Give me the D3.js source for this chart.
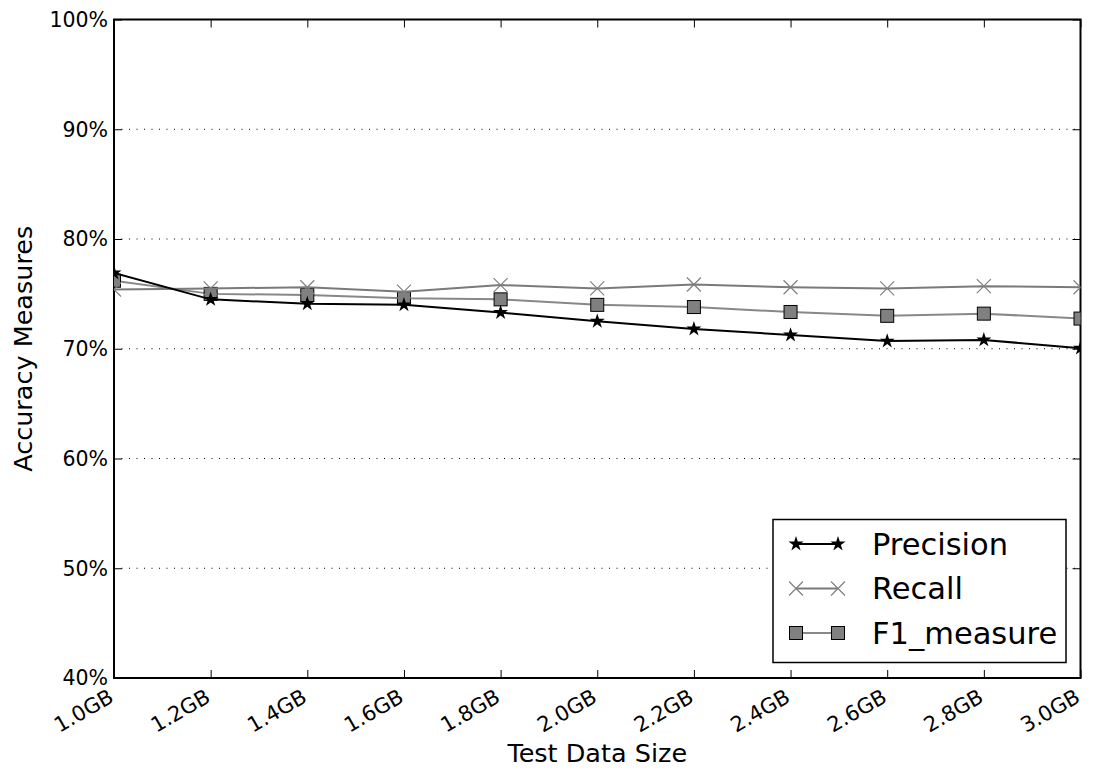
<!DOCTYPE html>
<html>
<head>
<meta charset="utf-8">
<script src="https://cdn.jsdelivr.net/npm/d3@7"></script>
<style>
  html, body { margin: 0; padding: 0; background: #fff; }
  svg { display: block; font-family: "DejaVu Sans", sans-serif; }
</style>
</head>
<body>
<svg id="chart" width="1097" height="770"></svg>
<script>
// Test data sizes (GB) and accuracy measures (%)
const sizes = [1.0, 1.2, 1.4, 1.6, 1.8, 2.0, 2.2, 2.4, 2.6, 2.8, 3.0];
const sizeLabels = ["1.0GB", "1.2GB", "1.4GB", "1.6GB", "1.8GB", "2.0GB", "2.2GB", "2.4GB", "2.6GB", "2.8GB", "3.0GB"];
const precision = [76.9, 74.5, 74.1, 74.0, 73.3, 72.5, 71.8, 71.25, 70.7, 70.8, 70.05];
const recall    = [75.4, 75.5, 75.6, 75.2, 75.8, 75.5, 75.85, 75.6, 75.5, 75.7, 75.6];
const f1measure = [76.2, 75.0, 74.9, 74.6, 74.5, 74.0, 73.8, 73.35, 73.0, 73.2, 72.75];
const yTicks = [40, 50, 60, 70, 80, 90, 100];
const seriesNames = ["Precision", "Recall", "F1_measure"];

const margin = { left: 114, right: 1080.5, top: 19.5, bottom: 678 };
const svg = d3.select("#chart");

const x = d3.scaleLinear().domain([1.0, 3.0]).range([margin.left, margin.right]);
const y = d3.scaleLinear().domain([40, 100]).range([margin.bottom, margin.top]);

// clip region for the plotted marks
svg.append("defs").append("clipPath").attr("id", "plotClip")
  .append("rect")
  .attr("x", margin.left).attr("y", margin.top)
  .attr("width", margin.right - margin.left)
  .attr("height", margin.bottom - margin.top);

// dotted horizontal grid
svg.append("g").selectAll("line")
  .data(yTicks.filter(t => t > 40 && t < 100))
  .join("line")
  .attr("x1", margin.left).attr("x2", margin.right)
  .attr("y1", d => y(d)).attr("y2", d => y(d))
  .attr("stroke", "#000").attr("stroke-width", 1)
  .attr("stroke-dasharray", "1,6.5");

// axes with inward ticks
const tickLen = 8;
const xAxisB = d3.axisBottom(x).tickValues(sizes).tickSizeInner(-tickLen).tickSizeOuter(0).tickFormat("");
const xAxisT = d3.axisTop(x).tickValues(sizes).tickSizeInner(-tickLen).tickSizeOuter(0).tickFormat("");
const yAxisL = d3.axisLeft(y).tickValues(yTicks).tickSizeInner(-tickLen).tickSizeOuter(0).tickFormat("");
const yAxisR = d3.axisRight(y).tickValues(yTicks).tickSizeInner(-tickLen).tickSizeOuter(0).tickFormat("");

function styleAxis(g) {
  g.select(".domain").remove();
  g.selectAll(".tick line").attr("stroke", "#000").attr("stroke-width", 1);
}
svg.append("g").attr("transform", `translate(0,${margin.bottom})`).call(xAxisB).call(styleAxis);
svg.append("g").attr("transform", `translate(0,${margin.top})`).call(xAxisT).call(styleAxis);
svg.append("g").attr("transform", `translate(${margin.left},0)`).call(yAxisL).call(styleAxis);
svg.append("g").attr("transform", `translate(${margin.right},0)`).call(yAxisR).call(styleAxis);

// frame
svg.append("rect")
  .attr("x", margin.left).attr("y", margin.top)
  .attr("width", margin.right - margin.left)
  .attr("height", margin.bottom - margin.top)
  .attr("fill", "none").attr("stroke", "#000").attr("stroke-width", 2);

// y tick labels
svg.append("g").selectAll("text")
  .data(yTicks).join("text")
  .attr("x", margin.left - 6)
  .attr("y", d => y(d))
  .attr("dy", "0.36em")
  .attr("text-anchor", "end")
  .attr("font-size", 20.5)
  .attr("fill", "#000")
  .text(d => d + "%");

// x tick labels, rotated 30 degrees
svg.append("g").selectAll("text")
  .data(sizes).join("text")
  .attr("transform", (d) => `translate(${x(d) + 1},${margin.bottom + 23}) rotate(-30)`)
  .attr("text-anchor", "end")
  .attr("font-size", 21)
  .attr("fill", "#000")
  .text((d, i) => sizeLabels[i]);

// axis titles
svg.append("text")
  .attr("x", (margin.left + margin.right) / 2).attr("y", 762)
  .attr("text-anchor", "middle").attr("font-size", 25.5)
  .text("Test Data Size");
svg.append("text")
  .attr("transform", `translate(32,${(margin.top + margin.bottom) / 2}) rotate(-90)`)
  .attr("text-anchor", "middle").attr("font-size", 25.5)
  .text("Accuracy Measures");

// marker drawing helpers
const starPath = d3.symbol().type(d3.symbolStar).size(70)();
function drawMarker(g, kind) {
  if (kind === "star") {
    g.append("path").attr("d", starPath).attr("fill", "#000");
  } else if (kind === "x") {
    const s = 7;
    g.append("path").attr("d", `M${-s},${-s}L${s},${s}M${-s},${s}L${s},${-s}`)
      .attr("stroke", "#808080").attr("stroke-width", 1.2).attr("fill", "none");
  } else {
    const s = 6.5;
    g.append("rect").attr("x", -s).attr("y", -s).attr("width", 2 * s).attr("height", 2 * s)
      .attr("fill", "#808080").attr("stroke", "#000").attr("stroke-width", 1);
  }
}

const series = [
  { name: seriesNames[0], values: precision, color: "#000000", width: 2, marker: "star" },
  { name: seriesNames[1], values: recall, color: "#7a7a7a", width: 2, marker: "x" },
  { name: seriesNames[2], values: f1measure, color: "#888888", width: 2, marker: "square" }
];

const line = d3.line().x(d => x(d[0])).y(d => y(d[1]));
const plot = svg.append("g").attr("clip-path", "url(#plotClip)");

// draw in reverse so Precision sits on top
series.slice().reverse().forEach(s => {
  const pts = sizes.map((v, i) => [v, s.values[i]]);
  plot.append("path").datum(pts)
    .attr("d", line).attr("fill", "none")
    .attr("stroke", s.color).attr("stroke-width", s.width);
  pts.forEach(p => {
    const g = plot.append("g").attr("transform", `translate(${x(p[0])},${y(p[1])})`);
    drawMarker(g, s.marker);
  });
});

// legend
const lg = svg.append("g");
lg.append("rect")
  .attr("x", 773).attr("y", 519.5).attr("width", 293).attr("height", 143)
  .attr("fill", "#fff").attr("stroke", "#000").attr("stroke-width", 1.5);
series.forEach((s, i) => {
  const ry = 544 + i * 44.5;
  lg.append("line").attr("x1", 796).attr("x2", 838).attr("y1", ry).attr("y2", ry)
    .attr("stroke", s.color).attr("stroke-width", s.width);
  [796, 838].forEach(mx => {
    const g = lg.append("g").attr("transform", `translate(${mx},${ry})`);
    drawMarker(g, s.marker);
  });
  lg.append("text").attr("x", 872).attr("y", ry).attr("dy", "0.36em")
    .attr("font-size", 30.5).attr("fill", "#000").text(s.name);
});
</script>
</body>
</html>
